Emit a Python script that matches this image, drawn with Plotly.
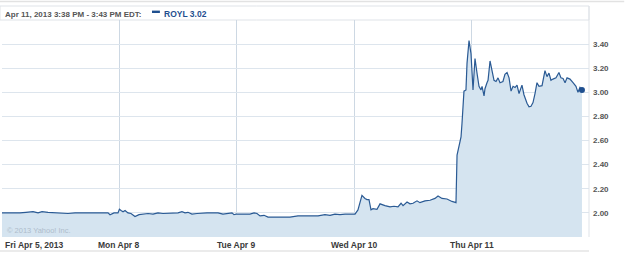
import plotly.graph_objects as go

# time in trading-day units (0 = Fri Apr 5 open, 1 = Mon Apr 8 open, ...)
t = [0.000, 0.051, 0.102, 0.153, 0.204, 0.264, 0.307, 0.341, 0.392, 0.451, 0.511, 0.562,
     0.622, 0.681, 0.733, 0.792, 0.852, 0.903, 0.920, 0.954, 0.988,
     1.000, 1.014, 1.031, 1.048, 1.073, 1.099, 1.133, 1.167, 1.201, 1.244, 1.286, 1.329,
     1.371, 1.414, 1.457, 1.499, 1.533, 1.559, 1.584, 1.618, 1.661, 1.704, 1.746, 1.789,
     1.840, 1.882, 1.925, 1.959, 1.976, 1.993,
     2.027, 2.070, 2.112, 2.147, 2.172, 2.198, 2.232, 2.266, 2.325, 2.385, 2.453, 2.521,
     2.581, 2.641, 2.692, 2.751, 2.794, 2.836, 2.879, 2.922, 2.964, 2.998,
     3.007, 3.032, 3.066, 3.092, 3.109, 3.126, 3.143, 3.160, 3.177, 3.194, 3.220, 3.245,
     3.262, 3.305, 3.339, 3.373, 3.399, 3.416, 3.450, 3.475, 3.501, 3.535, 3.560, 3.603,
     3.646, 3.688, 3.714, 3.748, 3.790, 3.833, 3.867, 3.876, 3.884, 3.910, 3.918, 3.935,
     3.952, 3.961, 3.978, 3.986, 3.995,
     4.012, 4.029, 4.046, 4.063, 4.080, 4.089, 4.106, 4.114, 4.131, 4.140, 4.157, 4.174,
     4.191, 4.208, 4.225, 4.242, 4.267, 4.284, 4.302, 4.319, 4.336, 4.353, 4.370, 4.387,
     4.404, 4.429, 4.446, 4.472, 4.489, 4.506, 4.523, 4.540, 4.557, 4.574, 4.600, 4.625,
     4.642, 4.659, 4.676, 4.693, 4.719, 4.744, 4.761, 4.779, 4.796, 4.813, 4.838, 4.864,
     4.889, 4.906, 4.923, 4.940]

price = [2.00, 2.00, 1.995, 2.00, 2.005, 2.01, 2.00, 2.01, 2.005, 2.00, 2.00, 1.995,
         2.00, 2.00, 1.995, 2.00, 2.00, 2.00, 1.985, 2.00, 2.00,
         2.03, 2.02, 2.01, 2.02, 2.00, 1.995, 1.97, 1.985, 1.99, 1.995, 1.99, 2.00,
         1.995, 1.995, 2.00, 2.00, 2.01, 2.00, 2.005, 1.99, 1.995, 2.00, 2.00, 2.00,
         2.00, 1.99, 1.995, 2.00, 1.985, 1.99,
         1.99, 1.99, 1.99, 2.00, 1.995, 1.975, 1.98, 1.965, 1.965, 1.97, 1.965, 1.975,
         1.975, 1.98, 1.975, 1.985, 1.98, 1.99, 1.985, 1.99, 1.99, 1.99,
         1.99, 2.025, 2.145, 2.12, 2.11, 2.11, 2.025, 2.035, 2.03, 2.03, 2.075, 2.065,
         2.06, 2.05, 2.055, 2.05, 2.08, 2.06, 2.09, 2.075, 2.08, 2.10, 2.085, 2.10,
         2.105, 2.12, 2.14, 2.12, 2.115, 2.095, 2.085, 2.48, 2.52, 2.63, 2.74, 3.01,
         3.02, 3.24, 3.43, 3.37, 3.32,
         3.02, 3.28, 3.16, 3.05, 3.02, 3.05, 2.97, 3.03, 3.08, 3.10, 3.26, 3.19,
         3.10, 3.09, 3.12, 3.08, 3.09, 3.15, 3.165, 3.12, 3.01, 3.05, 3.04, 3.06,
         2.99, 3.06, 2.98, 2.91, 2.88, 2.885, 2.915, 2.99, 3.08, 3.05, 3.055, 3.18,
         3.13, 3.16, 3.10, 3.11, 3.12, 3.165, 3.12, 3.115, 3.08, 3.12, 3.11, 3.08,
         3.05, 3.00, 3.04, 3.02]

day_ticks = [0, 1, 2, 3, 4]
day_labels = ["Fri Apr 5, 2013", "Mon Apr 8", "Tue Apr 9", "Wed Apr 10", "Thu Apr 11"]
y_ticks = [2.00, 2.20, 2.40, 2.60, 2.80, 3.00, 3.20, 3.40]
header_text = "Apr 11, 2013 3:38 PM - 3:43 PM EDT:"
symbol = "ROYL"
last_price = price[-1]

LINE = "#2a5a94"
FILL = "#d5e4f0"
GRID = "#dde5ed"
VGRID = "#cdd8e3"
TXT = "#3a3a3a"
FONT = "Liberation Sans"

fig = go.Figure()
fig.add_trace(go.Scatter(x=t, y=price, mode="lines", fill="tozeroy",
                         line=dict(color=LINE, width=1.2), fillcolor=FILL,
                         hoverinfo="skip", showlegend=False))
fig.add_trace(go.Scatter(x=[t[-1]], y=[price[-1]], mode="markers",
                         marker=dict(color="#1f4f8f", size=6), showlegend=False,
                         cliponaxis=False))

fig.update_layout(
    width=625, height=254,
    margin=dict(l=2, r=36, t=20, b=17),
    paper_bgcolor="white", plot_bgcolor="white",
    xaxis=dict(range=[0, 5], tickvals=day_ticks, showticklabels=False,
               showgrid=True, gridcolor=VGRID, gridwidth=1, zeroline=False,
               showline=False, fixedrange=True),
    yaxis=dict(range=[1.8, 3.6], side="right", tickvals=y_ticks,
               ticktext=[f"<b>{v:.2f}</b>" for v in y_ticks],
               showgrid=True, gridcolor=GRID, zeroline=False, showline=False,
               tickfont=dict(family=FONT, size=8, color="#555555"), ticks="",
               ticklabelstandoff=3),
)

# x tick labels
for i, (v, lab) in enumerate(zip(day_ticks, day_labels)):
    fig.add_annotation(x=v, y=0, xref="x", yref="paper", text=f"<b>{lab}</b>",
                       showarrow=False, xanchor="left" if i == 0 else "center",
                       yanchor="top", yshift=-1, xshift=1 if i == 0 else 0,
                       font=dict(family=FONT, size=8.5, color=TXT))

# header
fig.add_shape(type="rect", xref="paper", yref="paper", x0=-0.0034, x1=1.0,
              y0=1.0, y1=1.0645, line=dict(color="#dfe3e8", width=1), fillcolor="white",
              layer="below")
fig.add_shape(type="line", xref="paper", yref="paper", x0=-0.0034, x1=1.06,
              y0=1.085, y1=1.085, line=dict(color="#e2e2e2", width=1.5))
fig.add_shape(type="line", xref="paper", yref="paper", x0=-0.0034, x1=1.0,
              y0=-0.0645, y1=-0.0645, line=dict(color="#e4e4e4", width=1.5))
fig.add_shape(type="line", xref="paper", yref="paper", x0=1.0, x1=1.0,
              y0=0, y1=1.0645, line=dict(color="#dfe3e8", width=1))
fig.add_annotation(x=0, y=1, xref="paper", yref="paper", xanchor="left", yanchor="middle",
                   yshift=6, xshift=1, showarrow=False,
                   text=f"<b>{header_text}</b>",
                   font=dict(family=FONT, size=8, color="#555555"))
fig.add_shape(type="rect", xref="paper", yref="paper", x0=0.2555, x1=0.269,
              y0=1.0323, y1=1.0433, line=dict(width=0), fillcolor="#1f4f8f")
fig.add_annotation(x=0.272, y=1, xref="paper", yref="paper", xanchor="left", yanchor="middle",
                   yshift=6, showarrow=False,
                   text=f"<b>{symbol} {last_price:.2f}</b>",
                   font=dict(family=FONT, size=8.5, color="#1f4f8f"))
# watermark
fig.add_annotation(x=0, y=0, xref="paper", yref="paper", xanchor="left", yanchor="bottom",
                   xshift=3, yshift=0, showarrow=False, text="© 2013 Yahoo! Inc.",
                   font=dict(family=FONT, size=7.5, color="#aebccb"))

fig.write_html("out.html")
